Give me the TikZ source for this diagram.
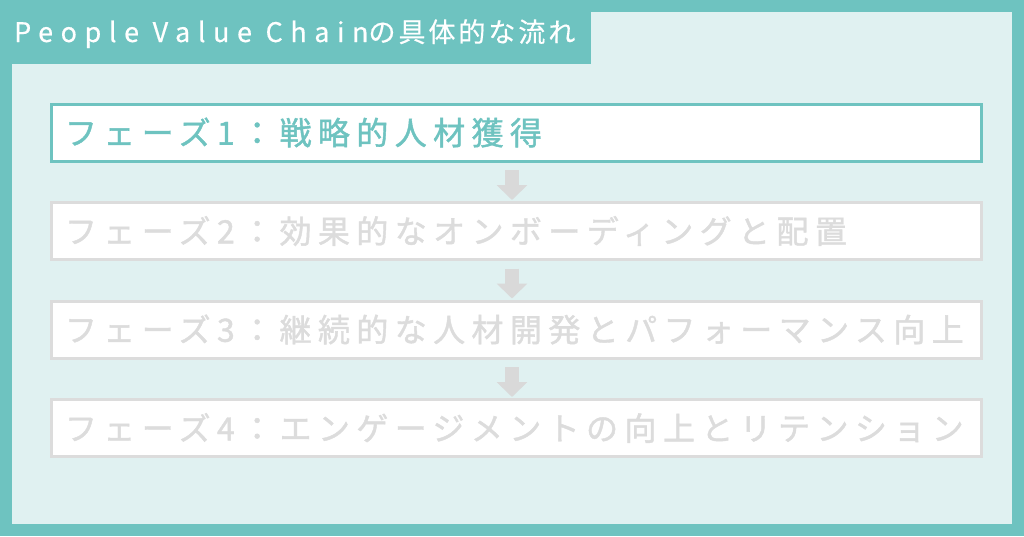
\documentclass[tikz,border=0pt]{standalone}
\usepackage{fontspec}
\setmainfont{Noto Sans CJK JP}
\newfontfamily\boxfont[LetterSpace=20,FakeBold=1.3]{Noto Sans CJK JP}
\newfontfamily\titlefont[LetterSpace=28,FakeBold=0.4]{Noto Sans CJK JP}
\newfontfamily\titlecjk[LetterSpace=11,FakeBold=0.4]{Noto Sans CJK JP}
\usetikzlibrary{arrows.meta,calc}
\definecolor{teal1}{RGB}{110,195,192}
\definecolor{lightbg}{RGB}{224,241,241}
\definecolor{greyc}{RGB}{220,220,220}
\definecolor{arrowc}{RGB}{217,217,217}
\tikzset{
  phase/.style={draw=greyc, line width=3pt, fill=white, anchor=north west,
    minimum width=930pt, minimum height=57pt, inner xsep=13.5pt, inner ysep=0pt,
    text width=903pt, align=left, text=greyc,
    font=\boxfont\fontsize{32pt}{36pt}\selectfont},
  active/.style={phase, draw=teal1, text=teal1},
  flow/.style={draw=arrowc, line width=14pt, line cap=butt,
    -{Triangle[width=30pt,length=15pt]}},
}
\begin{document}
\begin{tikzpicture}[x=1pt,y=-1pt]
\useasboundingbox (0,0) rectangle (1024,536);
\fill[teal1] (0,0) rectangle (1024,536);
\fill[lightbg] (12,12) rectangle (1012,524);
\fill[teal1] (0,0) rectangle (591,64);
\node[anchor=base west, inner sep=0pt, text=white,
  font=\titlefont\fontsize{27pt}{30pt}\selectfont] (title) at (14,42)
  {People Value Chain{\titlecjk の具体的な流れ}};
\node[active] (b1) at (50,102.5) {フェーズ1：戦略的人材獲得};
\node[phase] (b2) at (50,201) {フェーズ2：効果的なオンボーディングと配置};
\node[phase] (b3) at (50,299.5) {フェーズ3：継続的な人材開発とパフォーマンス向上};
\node[phase] (b4) at (50,398) {フェーズ4：エンゲージメントの向上とリテンション};
\coordinate (ax) at (512,0);
\draw[flow] ($(b1.south -| ax)+(0,7.5)$) -- ($(b2.north -| ax)+(0,-1)$);
\draw[flow] ($(b2.south -| ax)+(0,7.5)$) -- ($(b3.north -| ax)+(0,-1)$);
\draw[flow] ($(b3.south -| ax)+(0,7.5)$) -- ($(b4.north -| ax)+(0,-1)$);
\end{tikzpicture}
\end{document}
